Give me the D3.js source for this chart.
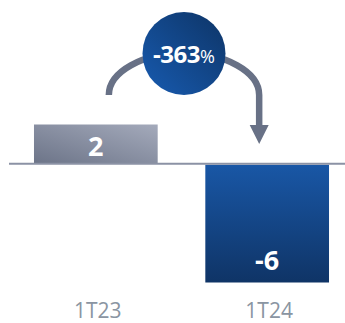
<!DOCTYPE html>
<html>
<head>
<meta charset="utf-8">
<script src="https://cdn.jsdelivr.net/npm/d3@7"></script>
<style>
  html, body { margin: 0; padding: 0; background: #fff; }
  svg { display: block; font-family: "Open Sans", "Noto Sans", sans-serif; }
</style>
</head>
<body>
<div id="chart"></div>
<script>
var categories = ["1T23", "1T24"];
var values = [2, -6];
var valueLabels = ["2", "-6"];
var changeLabel = "-363";

var width = 345, height = 323;

var svg = d3.select("#chart").append("svg")
    .attr("width", width)
    .attr("height", height);

// gradients
var defs = svg.append("defs");
var g1 = defs.append("linearGradient").attr("id", "gGray")
    .attr("x1", "0%").attr("y1", "100%").attr("x2", "100%").attr("y2", "0%");
g1.append("stop").attr("offset", "0%").attr("stop-color", "#6c7488");
g1.append("stop").attr("offset", "100%").attr("stop-color", "#a4aabb");

var g2 = defs.append("linearGradient").attr("id", "gBlue")
    .attr("x1", "0%").attr("y1", "0%").attr("x2", "0%").attr("y2", "100%");
g2.append("stop").attr("offset", "0%").attr("stop-color", "#1957a6");
g2.append("stop").attr("offset", "100%").attr("stop-color", "#0f3466");

var g3 = defs.append("linearGradient").attr("id", "gCircle")
    .attr("x1", "15%").attr("y1", "85%").attr("x2", "85%").attr("y2", "15%");
g3.append("stop").attr("offset", "0%").attr("stop-color", "#1655a5");
g3.append("stop").attr("offset", "100%").attr("stop-color", "#0f3a71");

// scales
var x = d3.scaleBand()
    .domain(categories)
    .range([10, 353])
    .paddingInner(0.278)
    .paddingOuter(0.14);

var y = d3.scaleLinear()
    .domain([-6, 2])
    .range([281.5, 124.5]);

var fills = ["url(#gGray)", "url(#gBlue)"];

// bars
svg.selectAll("rect.bar").data(values).enter().append("rect")
    .attr("class", "bar")
    .attr("x", function (d, i) { return x(categories[i]); })
    .attr("y", function (d) { return d > 0 ? y(d) : y(0) + 1; })
    .attr("width", x.bandwidth())
    .attr("height", function (d) { return Math.abs(y(d) - y(0)); })
    .attr("fill", function (d, i) { return fills[i]; });

// baseline
svg.append("line")
    .attr("x1", 9).attr("x2", width)
    .attr("y1", y(0)).attr("y2", y(0))
    .style("stroke", "#8b92a5")
    .style("stroke-width", 2);

// value labels
svg.selectAll("text.val").data(values).enter().append("text")
    .attr("class", "val")
    .attr("x", function (d, i) { return x(categories[i]) + x.bandwidth() / 2; })
    .attr("y", function (d) { return d > 0 ? y(0) - 8 : y(d) - 12; })
    .attr("text-anchor", "middle")
    .attr("fill", "#fff")
    .style("font-size", "27px")
    .style("font-weight", "bold")
    .text(function (d, i) { return valueLabels[i]; });

// category labels
svg.selectAll("text.cat").data(categories).enter().append("text")
    .attr("class", "cat")
    .attr("x", function (d) { return x(d) + x.bandwidth() / 2 + 2; })
    .attr("y", 318)
    .attr("text-anchor", "middle")
    .attr("fill", "#8a95a2")
    .style("font-size", "21px")
    .text(String);

// arrow arc
var ax1 = x(categories[0]) + x.bandwidth() / 2 + 13;
var ax2 = x(categories[1]) + x.bandwidth() / 2 - 8;
var acy = 95;
var rx = (ax2 - ax1) / 2, ry = 42;
svg.append("path")
    .attr("d", "M" + ax1 + "," + acy + " A" + rx + "," + ry + " 0 0 1 " + ax2 + "," + acy + " L" + ax2 + "," + 127)
    .attr("fill", "none")
    .attr("stroke", "#687186")
    .attr("stroke-width", 6.5);
svg.append("path")
    .attr("d", "M" + (ax2 - 9.5) + ",125 L" + (ax2 + 9.5) + ",125 L" + ax2 + ",144 Z")
    .attr("fill", "#687186");

// circle
var cx = (ax1 + ax2) / 2, cy = 53.5;
svg.append("circle")
    .attr("cx", cx).attr("cy", cy).attr("r", 41.5)
    .attr("fill", "url(#gCircle)");

var t = svg.append("text")
    .attr("x", cx).attr("y", cy + 9)
    .attr("text-anchor", "middle")
    .attr("fill", "#fff")
    .style("font-weight", "bold");
t.append("tspan").style("font-size", "24px").style("letter-spacing", "-0.5px").text(changeLabel);
t.append("tspan").style("font-size", "18px").style("font-weight", "normal").text("%");
</script>
</body>
</html>
